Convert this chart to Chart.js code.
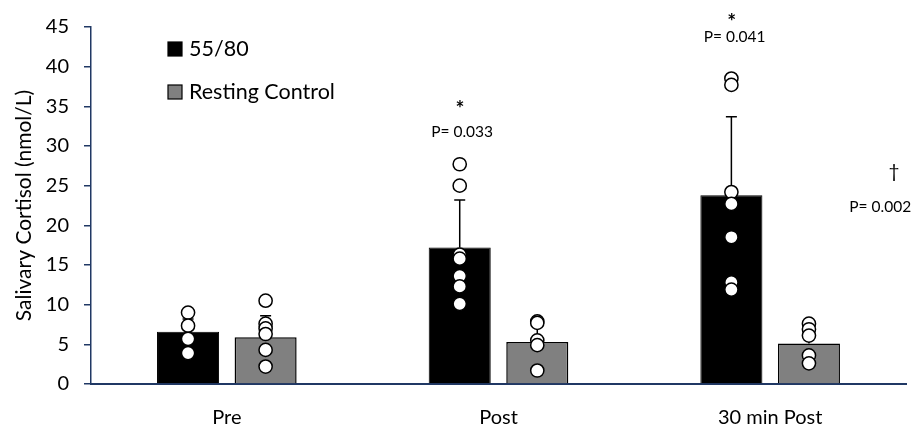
<!DOCTYPE html>
<html>
<head>
<meta charset="utf-8">
<script src="https://cdn.jsdelivr.net/npm/chart.js@4.4.1/dist/chart.umd.min.js"></script>
<style>
	html, body { margin: 0; padding: 0; background: #fff; }
</style>
</head>
<body>
<canvas id="cortisolChart" width="912" height="426"></canvas>
<script>
// data
const categories = ['Pre', 'Post', '30 min Post'];
const seriesNames = ['55/80', 'Resting Control'];
const meanExercise = [6.6, 17.2, 23.8];
const meanControl = [5.9, 5.3, 5.1];
const sdExercise = [1.6, 6.0, 9.9];
const sdControl = [2.7, 2.3, 1.9];
const pointsExercise = [
	[9.0, 7.35, 5.7, 3.9],
	[27.7, 25.0, 16.3, 15.8, 13.6, 12.3, 10.1],
	[38.5, 37.7, 24.2, 22.7, 18.5, 12.8, 11.9]
];
const pointsControl = [
	[10.5, 7.6, 7.0, 6.3, 4.3, 2.2],
	[7.9, 7.7, 5.5, 4.9, 1.7],
	[7.6, 6.9, 6.1, 3.6, 2.6]
];
const yTicks = [0, 5, 10, 15, 20, 25, 30, 35, 40, 45];

// significance marks (x in category units, y in nmol/L)
const noteTexts = ['*', 'P= 0.033', '*', 'P= 0.041', '\u2020', 'P= 0.002'];
const noteX = [0.858, 0.866, 1.858, 1.869, 2.456, 2.405];
const noteY = [34.6, 31.8, 45.6, 43.8, 26.8, 22.3];

const AXIS_COLOR = '#203864';
const FONT = 'Lato, "Open Sans", sans-serif';
const barColors = ['#000000', '#808080'];

// error bars drawn right after each bar dataset
const errorBars = {
	id: 'errorBars',
	afterDatasetDraw(chart, args) {
		const ds = chart.data.datasets[args.index];
		if (!ds.sd) return;
		const { ctx } = chart;
		const y = chart.scales.y;
		ctx.save();
		ctx.strokeStyle = '#000';
		ctx.lineWidth = 1.5;
		args.meta.data.forEach((bar, i) => {
			const top = y.getPixelForValue(ds.data[i] + ds.sd[i]);
			const base = y.getPixelForValue(ds.data[i]);
			ctx.beginPath();
			ctx.moveTo(bar.x, base);
			ctx.lineTo(bar.x, top);
			ctx.moveTo(bar.x - 5.5, top);
			ctx.lineTo(bar.x + 5.5, top);
			ctx.stroke();
		});
		ctx.restore();
	}
};

// individual subjects, centred on their bar
const subjectPoints = {
	id: 'subjectPoints',
	afterDatasetsDraw(chart) {
		const { ctx } = chart;
		const y = chart.scales.y;
		ctx.save();
		ctx.fillStyle = '#fff';
		ctx.strokeStyle = '#000';
		ctx.lineWidth = 1.5;
		chart.data.datasets.forEach((ds, d) => {
			const bars = chart.getDatasetMeta(d).data;
			ds.points.forEach((vals, i) => {
				vals.forEach(v => {
					ctx.beginPath();
					ctx.arc(bars[i].x, y.getPixelForValue(v), 6.6, 0, Math.PI * 2);
					ctx.fill();
					ctx.stroke();
				});
			});
		});
		ctx.restore();
	}
};

const notes = {
	id: 'notes',
	afterDraw(chart) {
		const { ctx } = chart;
		const x = chart.scales.x, y = chart.scales.y;
		ctx.save();
		ctx.fillStyle = '#000';
		ctx.textAlign = 'center';
		ctx.textBaseline = 'middle';
		noteTexts.forEach((t, i) => {
			ctx.font = t === '*' ? 'bold 21px ' + FONT : (t === '\u2020' ? '19px ' + FONT : '15.5px ' + FONT);
			ctx.fillText(t, x.getPixelForValue(noteX[i]), y.getPixelForValue(noteY[i]));
		});
		ctx.restore();
	}
};

const boxLegend = {
	id: 'boxLegend',
	afterDraw(chart) {
		const { ctx } = chart;
		ctx.save();
		ctx.font = '21.5px ' + FONT;
		ctx.textBaseline = 'middle';
		seriesNames.forEach((name, i) => {
			const top = 42 + i * 43;
			ctx.fillStyle = barColors[i];
			ctx.fillRect(168, top, 14, 14);
			ctx.strokeStyle = '#000';
			ctx.lineWidth = 1.2;
			ctx.strokeRect(168, top, 14, 14);
			ctx.fillStyle = '#000';
			ctx.fillText(name, 189, top + 7.5);
		});
		ctx.restore();
	}
};

new Chart(document.getElementById('cortisolChart'), {
	type: 'bar',
	data: {
		labels: categories,
		datasets: [
			{ label: seriesNames[0], data: meanExercise, sd: sdExercise, points: pointsExercise, backgroundColor: barColors[0], borderColor: '#000', borderWidth: 1 },
			{ label: seriesNames[1], data: meanControl, sd: sdControl, points: pointsControl, backgroundColor: barColors[1], borderColor: '#000', borderWidth: 1.5 }
		]
	},
	options: {
		responsive: false,
		animation: false,
		devicePixelRatio: 1,
		categoryPercentage: 0.571,
		barPercentage: 0.8,
		layout: { padding: { top: 23, right: 6, left: 0, bottom: 0 } },
		plugins: { legend: { display: false }, tooltip: { enabled: false } },
		scales: {
			x: {
				offset: true,
				grid: { display: false },
				border: { color: AXIS_COLOR, width: 2 },
				ticks: { color: '#000', font: { family: FONT, size: 20 }, padding: 14 },
				afterFit: s => { s.height = 42; }
			},
			y: {
				min: 0,
				max: 45,
				afterBuildTicks: s => { s.ticks = yTicks.map(v => ({ value: v })); },
				grid: { drawOnChartArea: false, drawTicks: true, tickLength: 7, color: AXIS_COLOR, lineWidth: 1.5 },
				border: { color: AXIS_COLOR, width: 1.5 },
				ticks: { color: '#000', font: { family: FONT, size: 20 }, padding: 15 },
				title: { display: true, text: 'Salivary Cortisol (nmol/L)', color: '#000', font: { family: FONT, size: 21 }, padding: { top: 12, bottom: 0 } },
				afterFit: s => { s.width = 91; }
			}
		}
	},
	plugins: [errorBars, subjectPoints, notes, boxLegend]
});
</script>
</body>
</html>
